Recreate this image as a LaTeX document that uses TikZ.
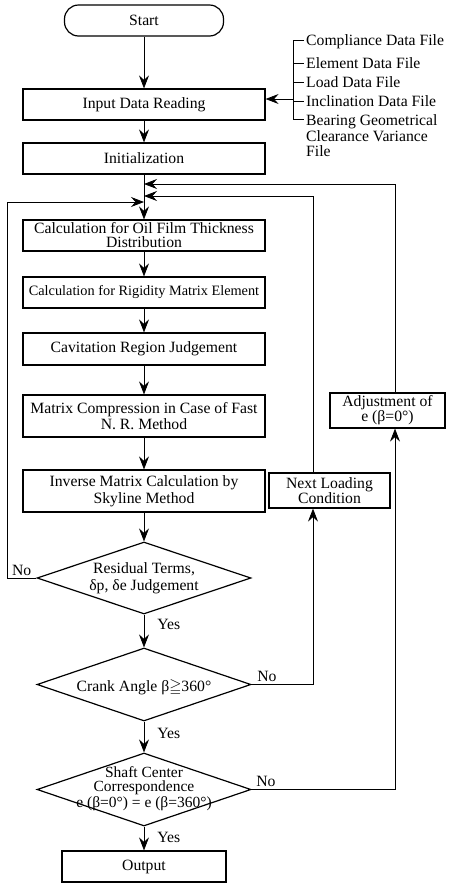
\documentclass[tikz,border=0pt]{standalone}
\usepackage{fontspec}
\usepackage{amssymb}
\setmainfont{Liberation Serif}
\usetikzlibrary{arrows.meta,shapes.geometric}

\begin{document}
\begin{tikzpicture}[x=1pt,y=-1pt,
    every node/.style={font=\fontsize{15.7}{15}\selectfont},
    proc/.style={draw,line width=1.2pt,minimum width=242pt,minimum height=31pt,inner sep=1pt,align=center},
    decision/.style={draw,line width=1.2pt,diamond,minimum width=214pt,minimum height=72pt,inner sep=0pt},
    flow/.style={line width=0.8pt,-{Stealth[length=13pt,width=10pt,inset=4.5pt]}},
    link/.style={line width=0.8pt},
    item/.style={inner sep=0pt,anchor=west,text height=10.5pt,text depth=3.5pt},
    tag/.style={inner sep=2pt}
  ]
  \useasboundingbox (0,0) rectangle (450,884);

  % main column
  \node[proc,minimum width=159pt,rounded corners=14pt] (start) at (144,20.5) {Start};
  \node[proc] (inp) at (144,104.5) {Input Data Reading};
  \node[proc] (init) at (144,158.5) {Initialization};
  \node[proc,font=\fontsize{15.7}{14}\selectfont] (oil) at (144,235.5) {Calculation for Oil Film Thickness\\Distribution};
  \node[proc,font=\fontsize{14.3}{15}\selectfont] (rig) at (144,292.5) {Calculation for Rigidity Matrix Element};
  \node[proc,minimum height=32pt] (cav) at (144,349) {Cavitation Region Judgement};
  \node[proc,minimum height=42pt,font=\fontsize{15.7}{16}\selectfont] (comp) at (144,416) {Matrix Compression in Case of Fast\\N. R. Method};
  \node[proc,minimum height=42pt,font=\fontsize{15.7}{16.5}\selectfont] (inv) at (144,491) {Inverse Matrix Calculation by\\Skyline Method};

  % judgements
  \node[decision,label={[align=center,font=\fontsize{15.7}{17}\selectfont]center:{Residual Terms,\\δp, δe Judgement}}] (res) at (144,578) {};
  \node[decision,minimum height=73pt,label={[yshift=-3pt]center:{Crank Angle β$\geqq$360°}}] (crank) at (144,684.5) {};
  \node[decision,minimum height=73pt,label={[align=center,yshift=1pt,font=\fontsize{15.5}{14.2}\selectfont]center:{Shaft Center\\Correspondence\\e (β=0°) = e (β=360°)}}] (shaft) at (144,789.5) {};
  \node[proc,minimum width=164pt] (out) at (144,866.5) {Output};

  % side boxes
  \node[proc,minimum width=121pt,minimum height=35pt] (nlc) at (329.5,490.5) {Next Loading\\Condition};
  \node[proc,minimum width=115pt,minimum height=35pt] (adj) at (387.5,410.5) {Adjustment of\\e (β=0°)};

  % input files
  \node[item] (f1) at (306,42) {Compliance Data File};
  \node[item] (f2) at (306,65) {Element Data File};
  \node[item] (f3) at (306,84) {Load Data File};
  \node[item] (f4) at (306,103) {Inclination Data File};
  \node[inner sep=0pt,anchor=west,align=left,font=\fontsize{15.7}{15.5}\selectfont] (f5) at (306,136) {Bearing Geometrical\\Clearance Variance\\File};
  \draw[link] (304,40) -- (293,40) -- (293,119) -- (304,119);
  \foreach \y in {63,82,101} {
    \draw[link] (293,\y) -- (304,\y);
  }
  \coordinate (brk) at (293,99);
  \draw[flow] (brk) -- (brk -| inp.east);

  % merge points and return columns
  \coordinate (j1) at (144,184);
  \coordinate (j2) at (144,196);
  \coordinate (j3) at (144,202);
  \coordinate (lft) at (7,0);
  \coordinate (rtA) at (313,0);
  \coordinate (rtB) at (395,0);

  % forward flow
  \draw[flow] (start) -- (inp);
  \draw[flow] (inp) -- (init);
  \draw[flow] (init) -- (oil);
  \draw[flow] (oil) -- (rig);
  \draw[flow] (rig) -- (cav);
  \draw[flow] (cav) -- (comp);
  \draw[flow] (comp) -- (inv);
  \draw[flow] (inv) -- (res);
  \draw[flow] (res) -- node[tag,pos=0.3,right=11pt] {Yes} (crank);
  \draw[flow] (crank) -- node[tag,pos=0.38,right=11pt] {Yes} (shaft);
  \draw[flow] (shaft) -- node[tag,pos=0.44,right=11pt] {Yes} (out);

  % loops back
  \draw[flow] (res.west) -- node[tag,above] {No} (res.west -| lft) -- (lft |- j3) -- (j3);
  \draw[flow] (crank.east) -- node[tag,pos=0.25,above] {No} (crank.east -| rtA) -- (nlc.south -| rtA);
  \draw[flow] (nlc.north -| rtA) -- (rtA |- j2) -- (j2);
  \draw[flow] (shaft.east) -- node[tag,pos=0.1,above] {No} (shaft.east -| rtB) -- (adj.south -| rtB);
  \draw[flow] (adj.north -| rtB) -- (rtB |- j1) -- (j1);
\end{tikzpicture}
\end{document}
